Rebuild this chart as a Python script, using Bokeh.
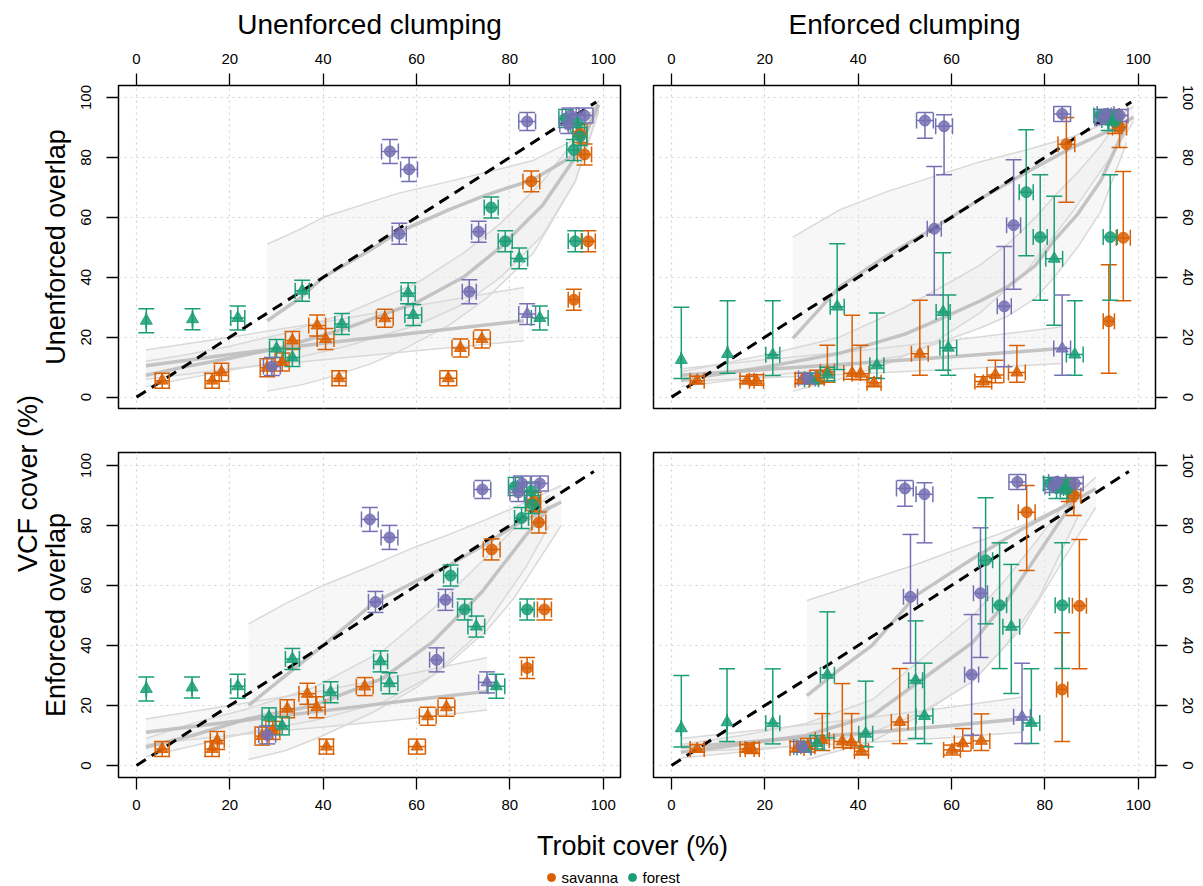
import math
from bokeh.plotting import figure
from bokeh.models import ColumnDataSource, Whisker, TeeHead, FixedTicker, Range1d
from bokeh.layouts import row, column
from bokeh.embed import file_html
from bokeh.resources import INLINE
from bokeh.core.properties import value

FONT = "Liberation Sans"
COLORS = {"savanna": "#D95F02", "forest": "#1B9E77", "other": "#7570B3"}
TICKS = [0, 20, 40, 60, 80, 100]

# ---------------- site data ----------------
group = ["savanna"] * 18 + ["forest"] * 18 + ["other"] * 11
shape = (["triangle"] * 13 + ["circle"] * 5 + ["triangle"] * 11 + ["circle"] * 7
         + ["circle"] * 7 + ["triangle"] + ["circle"] * 3)
legend_labels = ["savanna", "forest"]
column_titles = ["Unenforced clumping", "Enforced clumping"]
row_titles = ["Unenforced overlap", "Enforced overlap"]

# Trobit cover (x) under unenforced overlap (top row) / enforced overlap (bottom row)
trobit_unenf_overlap = [5.5, 16.2, 18.2, 28.0, 31.2, 33.4, 38.7, 40.5, 43.4, 53.2, 66.8, 69.4, 74.0,
                        84.6, 96.8, 93.7, 96.0, 95.0,
                        2.1, 12.0, 21.7, 35.5, 30.0, 33.4, 44.0, 58.2, 59.3, 82.0, 86.4,
                        76.0, 79.0, 94.0, 93.7, 92.0, 94.5, 95.0,
                        54.3, 58.4, 83.7, 56.3, 73.3, 71.3, 29.0, 83.7, 93.0, 96.0, 92.5]
trobit_enf_overlap = [5.5, 16.2, 17.3, 26.9, 29.2, 32.3, 36.6, 38.6, 40.7, 48.9, 60.1, 62.4, 66.4,
                      76.1, 87.4, 83.7, 86.2, 85.1,
                      2.1, 11.9, 21.7, 33.4, 28.4, 31.2, 41.6, 52.3, 54.2, 72.8, 77.1,
                      67.3, 70.3, 83.7, 82.5, 81.2, 84.6, 84.8,
                      50.0, 54.2, 74.1, 51.2, 66.2, 64.3, 28.0, 75.1, 82.6, 86.4, 81.8]
trobit_err = [1.5, 1.5, 1.5, 1.5, 1.5, 1.5, 1.8, 1.8, 1.5, 1.8, 1.8, 1.8, 1.8,
              1.8, 1.5, 1.2, 1.5, 1.5,
              0.0, 0.0, 1.5, 1.5, 1.5, 1.5, 1.5, 1.5, 1.8, 1.8, 1.8,
              1.5, 1.5, 1.5, 1.5, 1.5, 1.5, 1.5,
              1.8, 1.8, 1.8, 1.5, 1.5, 1.5, 1.8, 1.8, 1.8, 1.8, 1.8]

# VCF cover (y) under unenforced clumping (left column), symmetric error
vcf_unenf_clump = [5.5, 5.5, 8.3, 9.8, 11.7, 18.9, 23.9, 19.4, 6.3, 26.3, 6.3, 16.4, 19.4,
                   72.0, 52.0, 32.5, 81.0, 88.0,
                   25.5, 26.0, 26.4, 35.5, 16.2, 13.2, 24.4, 34.7, 27.4, 46.3, 26.4,
                   63.3, 52.0, 52.0, 82.5, 93.0, 91.5, 87.0,
                   82.0, 76.0, 92.0, 54.5, 55.2, 35.2, 10.2, 27.7, 94.0, 94.0, 91.0]
vcf_unenf_err = [2.5, 2.5, 3, 3, 3, 3, 3.5, 3.5, 2.5, 3, 2.5, 3, 3,
                 3.5, 3.5, 3.5, 3.5, 3,
                 4, 3.5, 4, 3.5, 3, 3, 3.5, 3.5, 3.5, 3.5, 4,
                 3.5, 3.5, 3.5, 3.5, 3, 3, 3,
                 4, 4, 3, 3.5, 3.5, 4, 3, 3.5, 2.5, 2.5, 3]

# VCF cover (y) under enforced clumping (right column), asymmetric interval
vcf_enf_clump = [5.5, 5.5, 5.5, 5.8, 6.4, 8.5, 8.0, 7.8, 4.8, 14.5, 5.2, 7.4, 8.2,
                 84.4, 53.2, 25.3, 90.0, 93.0,
                 12.4, 14.4, 14.1, 30.2, 6.0, 7.5, 10.6, 28.4, 16.5, 46.2, 14.2,
                 68.4, 53.4, 53.4, 92.5, 94.0, 93.5, 92.0,
                 92.3, 90.4, 94.5, 56.2, 57.4, 30.3, 6.2, 16.2, 94.5, 94.0, 93.0]
vcf_enf_lo = [4.5, 4.5, 4.0, 4.5, 4.5, 5.0, 6.0, 5.8, 3.5, 7.3, 3.5, 4.8, 5.0,
              65.0, 32.2, 8.0, 83.3, 88.0,
              6.2, 8.0, 7.2, 9.2, 4.5, 5.5, 6.2, 9.0, 7.3, 24.0, 7.3,
              47.2, 32.3, 32.3, 89.0, 92.0, 91.0, 89.0,
              86.4, 74.2, 92.0, 34.1, 36.0, 10.1, 4.5, 7.3, 92.5, 92.0, 91.0]
vcf_enf_hi = [7.0, 7.0, 7.5, 8.0, 9.0, 17.3, 27.3, 17.3, 6.5, 32.3, 6.8, 12.3, 17.2,
              93.3, 75.3, 44.2, 94.0, 95.5,
              30.0, 32.2, 32.2, 51.2, 8.0, 10.0, 28.1, 48.2, 34.1, 67.0, 32.2,
              89.2, 74.2, 74.2, 95.0, 96.0, 95.5, 94.5,
              95.0, 94.2, 97.0, 77.0, 79.2, 50.3, 8.0, 34.1, 96.0, 96.0, 95.0]

# ---------------- fitted curves with bands ----------------
# top-left
tl_f1_x = [28, 35, 40, 50, 56, 67, 75, 85, 94, 99]
tl_f1_y = [25.5, 33, 40, 49, 55, 62.6, 67.5, 72.6, 81, 97.6]
tl_f1_lo = [2, 4, 6, 11, 15, 24, 33, 48, 72, 96]
tl_f1_hi = [51, 56, 60, 65, 68, 72, 75, 79, 86, 98.7]
tl_f2_x = [2, 10, 20, 31, 45, 60, 70, 78, 87, 94, 99]
tl_f2_y = [7.3, 10, 13, 16.5, 23, 31.6, 40, 50, 64, 80, 97.6]
tl_f2_lo = [3.5, 6, 9, 12, 17, 24, 31, 40, 54, 72, 95]
tl_f2_hi = [12, 14, 17, 21, 28, 38, 48, 58, 72, 86, 99]
tl_f3_x = [2, 20, 40, 60, 83]
tl_f3_y = [10.5, 14.2, 18, 21.5, 25.5]
tl_f3_lo = [6, 9.5, 12.5, 15.5, 18.8]
tl_f3_hi = [15.7, 20, 25, 30.5, 36.6]
# top-right
tr_f1_x = [26, 36, 46, 56, 66, 76, 86, 94, 99]
tr_f1_y = [19.6, 36.8, 47, 56.2, 66, 75, 83.4, 89, 93.4]
tr_f1_lo = [2, 6, 11, 18, 28, 42, 62, 80, 92]
tr_f1_hi = [53.4, 62.5, 68.5, 73.5, 78.5, 82.5, 87, 92, 97]
tr_f2_x = [2, 20, 36, 50, 57, 66, 72, 78, 82, 87, 92, 97.5]
tr_f2_y = [5.7, 10, 14.6, 21, 25.7, 32, 36.8, 44, 52.3, 61, 72.3, 91]
tr_f2_lo = [3.5, 7, 10, 14, 18, 23, 27, 33, 40, 50, 62, 85]
tr_f2_hi = [8.5, 14, 20, 30, 36, 44, 51, 60, 67, 75, 84, 96]
tr_f3_x = [2, 20, 40, 60, 83.4]
tr_f3_y = [7.3, 9.2, 11.3, 13.5, 16.2]
tr_f3_lo = [5.2, 6.5, 7.8, 9.3, 11.2]
tr_f3_hi = [9.5, 12.5, 15.5, 19, 23.4]
# bottom-left
bl_f1_x = [24, 32, 40, 51, 60, 67, 75, 81, 91]
bl_f1_y = [20, 30, 40, 54.4, 61.5, 66.7, 74, 80, 87.8]
bl_f1_lo = [2, 5, 10, 18, 26, 34, 45, 56, 80]
bl_f1_hi = [47.2, 54, 60, 67, 73, 77, 82, 86, 93.3]
bl_f2_x = [2, 12, 24, 38, 52.6, 63.4, 74, 83.4, 88.4]
bl_f2_y = [6.1, 10, 15.6, 20, 28.9, 41.1, 57.8, 76.7, 86.1]
bl_f2_lo = [3, 6.5, 11, 15, 21, 30, 45, 66, 80]
bl_f2_hi = [9, 14, 19, 26, 38, 52, 68, 83, 90]
bl_f3_x = [2, 20, 40, 60, 75.1]
bl_f3_y = [11.1, 14.5, 18.2, 22, 24.7]
bl_f3_lo = [7, 10, 12.8, 15.8, 18.5]
bl_f3_hi = [15.5, 20, 25, 31, 36]
# bottom-right
br_f1_x = [29, 36, 43, 52.4, 64.5, 75.2, 84.5, 90.9]
br_f1_y = [23.3, 32, 40, 56.7, 68.9, 78.9, 86.7, 92.2]
br_f1_lo = [2, 5, 8, 16, 28, 46, 70, 86]
br_f1_hi = [55, 58.5, 62.2, 67, 74, 80, 87, 96.1]
br_f2_x = [2, 15, 28.8, 43.1, 53.9, 64.6, 71.6, 78.8, 87.4]
br_f2_y = [4.4, 7, 10, 16.7, 28.9, 41.1, 54.4, 71.1, 91.1]
br_f2_lo = [2.5, 4.5, 7, 11, 18, 28, 40, 56, 84]
br_f2_hi = [7, 10, 14, 22, 36, 50, 62, 76, 94]
br_f3_x = [2, 20, 40, 60, 75.2]
br_f3_y = [6.1, 8.3, 10.7, 13.3, 15.6]
br_f3_lo = [4.5, 5.8, 7.5, 9.3, 11.1]
br_f3_hi = [9, 12, 15.5, 19.5, 22.8]

one_to_one_top = [0, 98.5]
one_to_one_bottom = [0, 98.0]


def style_axes(p, xloc):
    for ax in p.axis:
        ax.ticker = FixedTicker(ticks=TICKS)
        ax.axis_line_color = None
        ax.major_tick_out = 12
        ax.major_tick_in = 0
        ax.major_tick_line_color = "black"
        ax.major_tick_line_width = 1.3
        ax.minor_tick_line_color = None
        ax.major_label_text_font = FONT
        ax.major_label_text_font_size = "15px"
        ax.major_label_text_color = "black"
        ax.axis_label_text_font = FONT
        ax.axis_label_text_font_size = "28px"
        ax.axis_label_text_font_style = "normal"
        ax.axis_label_text_color = "black"
    p.xaxis.major_label_standoff = 10
    p.yaxis.major_label_standoff = 15
    p.yaxis.major_label_orientation = "vertical"
    p.grid.grid_line_color = "#D2D2D2"
    p.grid.grid_line_dash = "2 4"
    p.grid.grid_line_width = 1.2


def make_panel(xs, ys, ylo, yhi, fits, one_to_one, xr, yr, xloc, yloc, w, h,
               bl, br, bt, bb, col_title=None):
    p = figure(width=w, height=h, x_range=Range1d(*xr), y_range=Range1d(*yr),
               x_axis_location=xloc, y_axis_location=yloc,
               output_backend="svg", toolbar_location=None,
               min_border_left=bl, min_border_right=br, min_border_top=bt, min_border_bottom=bb)
    p.outline_line_color = "black"
    p.outline_line_width = 1.5
    style_axes(p, xloc)
    if col_title:
        p.xaxis.axis_label = col_title
        p.xaxis.axis_label_standoff = 11

    # confidence bands then fitted curves
    for fx, fy, flo, fhi in fits:
        p.varea(x=fx, y1=flo, y2=fhi, fill_color="#EBEBEB", fill_alpha=0.4)
    for fx, fy, flo, fhi in fits:
        p.line(fx, flo, line_color="#D9D9D9", line_width=1.5)
        p.line(fx, fhi, line_color="#D9D9D9", line_width=1.5)
    for fx, fy, flo, fhi in fits:
        p.line(fx, fy, line_color="#BEBEBE", line_width=3.5, line_alpha=0.9)

    p.line(one_to_one, one_to_one, line_color="black", line_width=3, line_dash="11 7")

    for g in ["savanna", "forest", "other"]:
        idx = [i for i in range(len(xs)) if group[i] == g]
        c = COLORS[g]
        src = ColumnDataSource(dict(
            x=[xs[i] for i in idx], y=[ys[i] for i in idx],
            ylo=[ylo[i] for i in idx], yhi=[yhi[i] for i in idx],
            xlo=[xs[i] - trobit_err[i] for i in idx], xhi=[xs[i] + trobit_err[i] for i in idx],
            marker=[shape[i] for i in idx],
            size=[12 if shape[i] == "triangle" else 11 for i in idx]))
        for dim, base, lo, hi in [("height", "x", "ylo", "yhi"), ("width", "y", "xlo", "xhi")]:
            wsk = Whisker(source=src, base=base, lower=lo, upper=hi, dimension=dim,
                          line_color=c, line_width=1.5, level="glyph",
                          upper_head=TeeHead(size=16, line_color=c, line_width=1.5),
                          lower_head=TeeHead(size=16, line_color=c, line_width=1.5))
            p.add_layout(wsk)
        p.scatter(x="x", y="y", source=src, marker="marker", size="size",
                  fill_color=c, line_color=c, fill_alpha=0.85, line_alpha=0.9,
                  level="annotation")
    return p


def sym(y, e, sign):
    return [yy + sign * ee for yy, ee in zip(y, e)]


XR = (-3.86, 103.7)
YR_T = (-3.8, 104.0)
YR_B = (-4.0, 104.3)

tl = make_panel(trobit_unenf_overlap, vcf_unenf_clump,
                sym(vcf_unenf_clump, vcf_unenf_err, -1), sym(vcf_unenf_clump, vcf_unenf_err, 1),
                [(tl_f1_x, tl_f1_y, tl_f1_lo, tl_f1_hi), (tl_f2_x, tl_f2_y, tl_f2_lo, tl_f2_hi),
                 (tl_f3_x, tl_f3_y, tl_f3_lo, tl_f3_hi)], one_to_one_top,
                XR, YR_T, "above", "left", 562, 430, 44, 16, 85, 22, col_title=column_titles[0])
tr = make_panel(trobit_unenf_overlap, vcf_enf_clump, vcf_enf_lo, vcf_enf_hi,
                [(tr_f1_x, tr_f1_y, tr_f1_lo, tr_f1_hi), (tr_f2_x, tr_f2_y, tr_f2_lo, tr_f2_hi),
                 (tr_f3_x, tr_f3_y, tr_f3_lo, tr_f3_hi)], one_to_one_top,
                XR, YR_T, "above", "right", 565, 430, 17, 46, 85, 22, col_title=column_titles[1])
bl = make_panel(trobit_enf_overlap, vcf_unenf_clump,
                sym(vcf_unenf_clump, vcf_unenf_err, -1), sym(vcf_unenf_clump, vcf_unenf_err, 1),
                [(bl_f1_x, bl_f1_y, bl_f1_lo, bl_f1_hi), (bl_f2_x, bl_f2_y, bl_f2_lo, bl_f2_hi),
                 (bl_f3_x, bl_f3_y, bl_f3_lo, bl_f3_hi)], one_to_one_bottom,
                XR, YR_B, "below", "left", 562, 394, 44, 16, 22, 47)
br = make_panel(trobit_enf_overlap, vcf_enf_clump, vcf_enf_lo, vcf_enf_hi,
                [(br_f1_x, br_f1_y, br_f1_lo, br_f1_hi), (br_f2_x, br_f2_y, br_f2_lo, br_f2_hi),
                 (br_f3_x, br_f3_y, br_f3_lo, br_f3_hi)], one_to_one_bottom,
                XR, YR_B, "below", "right", 565, 394, 17, 46, 22, 47)

# left strip: shared y label and row labels (page pixel coordinates)
strip = figure(width=74, height=824, x_range=Range1d(0, 74), y_range=Range1d(824, 0),
               x_axis_location=None, y_axis_location=None, output_backend="svg",
               toolbar_location=None, min_border=0)
strip.outline_line_color = None
strip.grid.visible = False
strip.text(x=[27, 55, 55], y=[483, 246.5, 614.5],
           text=["VCF cover (%)"] + row_titles,
           angle=math.pi / 2, text_align="center", text_baseline="middle",
           text_font=value(FONT), text_font_size="27px", text_color="black")

# bottom strip: shared x label and the legend
bottom = figure(width=1201, height=62, x_range=Range1d(0, 1201), y_range=Range1d(886, 824),
                x_axis_location=None, y_axis_location=None, output_backend="svg",
                toolbar_location=None, min_border=0)
bottom.outline_line_color = None
bottom.grid.visible = False
bottom.text(x=[632], y=[845], text=["Trobit cover (%)"], text_align="center",
            text_baseline="middle", text_font=value(FONT), text_font_size="27px",
            text_color="black")
legend_dot_x = [551, 632]
legend_y = [877, 877]
bottom.scatter(x=legend_dot_x, y=legend_y, marker="circle", size=8,
               color=[COLORS["savanna"], COLORS["forest"]])
bottom.text(x=[d + 10 for d in legend_dot_x], y=legend_y, text=legend_labels,
            text_align="left", text_baseline="middle", text_font=value(FONT),
            text_font_size="15px", text_color="black")

layout = column(row(strip, column(row(tl, tr), row(bl, br))), bottom)

open("out.html", "w").write(file_html(layout, INLINE))
